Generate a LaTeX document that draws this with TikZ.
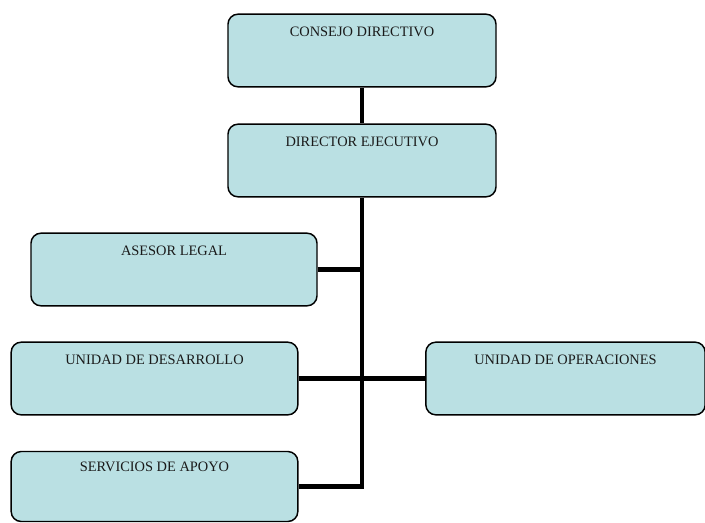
\documentclass[tikz,border=0pt]{standalone}
\usepackage{fontspec}
\setmainfont{Liberation Serif}
\definecolor{boxfill}{HTML}{BAE0E3}
\definecolor{boxtext}{HTML}{1A1A1A}
\begin{document}
\begin{tikzpicture}[x=0.75pt,y=-0.75pt,
  orgbox/.style={draw=black, line width=1.1pt, fill=boxfill, rounded corners=7.5pt,
    rectangle, inner sep=0pt, minimum height=54.5pt},
  boxlabel/.style={anchor=north, inner sep=0pt, yshift=-9.8pt,
    font=\fontsize{10.8}{12}\selectfont, text=boxtext},
  link/.style={draw=black, line width=3.4pt}]
\useasboundingbox (0,0) rectangle (705,522);
\node[orgbox, minimum width=201pt, label={[boxlabel]north:CONSEJO DIRECTIVO}] (consejo) at (362,50.5) {};
\node[orgbox, minimum width=201pt, label={[boxlabel]north:DIRECTOR EJECUTIVO}] (director) at (362,160.5) {};
\node[orgbox, minimum width=214.5pt, label={[boxlabel]north:ASESOR LEGAL}] (asesor) at (174,269.5) {};
\node[orgbox, minimum width=215pt, label={[boxlabel]north:UNIDAD DE DESARROLLO}] (desarrollo) at (154.5,378.5) {};
\node[orgbox, minimum width=209.5pt, label={[boxlabel]north:UNIDAD DE OPERACIONES}] (operaciones) at (565.5,378.5) {};
\node[orgbox, minimum width=215pt, minimum height=52.5pt, label={[boxlabel,yshift=1.5pt]north:SERVICIOS DE APOYO}] (servicios) at (154.5,486.5) {};
\draw[link] (consejo.south) -- (director.north);
\draw[link] (director.south) |- (servicios.east);
\draw[link] (asesor.east) -- (asesor.east -| director.south);
\draw[link] (desarrollo.east) -- (operaciones.west);
\end{tikzpicture}
\end{document}
